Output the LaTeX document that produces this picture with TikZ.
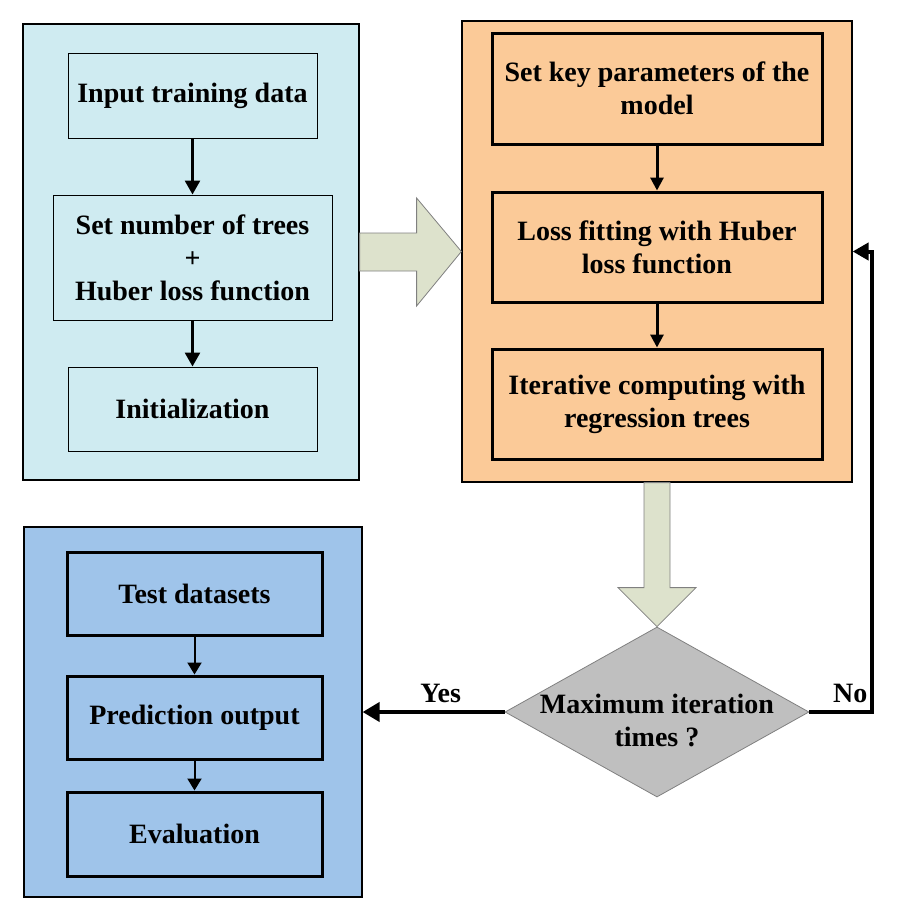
\documentclass[tikz,border=0pt]{standalone}
\usepackage{fontspec}
\setmainfont{Liberation Serif}
\usepackage{tikz}
\usetikzlibrary{positioning, arrows.meta, calc, shapes.geometric}
\definecolor{panelcyan}{RGB}{207, 235, 241}
\definecolor{panelorange}{RGB}{251, 202, 152}
\definecolor{panelblue}{RGB}{159, 196, 234}
\definecolor{arrowfill}{RGB}{221, 226, 204}
\definecolor{decisiongray}{RGB}{191, 191, 191}
\begin{document}
\begin{tikzpicture}[
      x=1pt, y=-1pt,
      font=\fontsize{28}{33}\selectfont\bfseries,
      panel/.style={draw=black, line width=1.2pt},
      thinbox/.style={
        draw=black, line width=1pt, fill=panelcyan,
        minimum width=249pt, minimum height=85pt, align=center
      },
      thickbox/.style={
        draw=black, line width=3pt,
        minimum width=330pt, minimum height=110pt, align=center
      },
      blockarrow/.style={draw=gray, line width=0.8pt, fill=arrowfill}
    ]
      \useasboundingbox (0,0) rectangle (907,922);

      \node[panel, fill=panelcyan, minimum width=336pt, minimum height=456pt] (pA) at (191,252) {};
      \node[panel, fill=panelorange, minimum width=390pt, minimum height=461pt] (pB) at (657,251.5) {};
      \node[panel, fill=panelblue, minimum width=338pt, minimum height=370pt] (pC) at (193,712) {};

      \node[thinbox] (t1) at (192.5,95.5) {Input training data};
      \node[thinbox, minimum width=279pt, minimum height=125pt, below=56pt of t1] (t2) {Set number of trees\\+\\Huber loss function};
      \node[thinbox, minimum height=84pt, below=46pt of t2] (t3) {Initialization};

      \node[thickbox, fill=panelorange, minimum height=111pt] (r1) at (657,88.5) {Set key parameters of the\\model};
      \node[thickbox, fill=panelorange, below=45pt of r1] (r2) {Loss fitting with Huber\\loss function};
      \node[thickbox, fill=panelorange, below=44pt of r2] (r3) {Iterative computing with\\regression trees};

      \node[thickbox, fill=panelblue, minimum width=255pt, minimum height=83pt] (b1) at (194.5,593.5) {Test datasets};
      \node[thickbox, fill=panelblue, minimum width=255pt, minimum height=83pt, below=38pt of b1] (b2) {Prediction output};
      \node[thickbox, fill=panelblue, minimum width=255pt, minimum height=84pt, below=30pt of b2] (b3) {Evaluation};

      \node[diamond, draw=gray, line width=0.8pt, fill=decisiongray, inner sep=0pt,
        minimum width=304pt, minimum height=170pt] (dm) at (657,712) {};
      \node[align=center, yshift=-8pt] (dmtext) at (dm) {Maximum iteration\\times ?};

      \draw[-{Triangle[length=14pt,width=15pt]}, line width=2.7pt] (t1) -- (t2);
      \draw[-{Triangle[length=14pt,width=15pt]}, line width=2.7pt] (t2) -- (t3);
      \draw[-{Triangle[length=13pt,width=13pt]}, line width=3pt] (r1) -- (r2);
      \draw[-{Triangle[length=13pt,width=13pt]}, line width=3pt] (r2) -- (r3);
      \draw[-{Triangle[length=12pt,width=14pt]}, line width=2pt] (b1) -- (b2);
      \draw[-{Triangle[length=12pt,width=14pt]}, line width=2pt] (b2) -- (b3);

      \draw[blockarrow] ($(pA.east)+(0,-19)$) -- ++(57,0) -- ++(0,-35) -- (pB.west)
        -- ($(pA.east)+(57,54)$) -- ++(0,-35) -- ($(pA.east)+(0,19)$) -- cycle;
      \draw[blockarrow] ($(pB.south)+(-13,0)$) -- ++(0,105) -- ++(-26,0) -- (dm.north)
        -- ($(pB.south)+(39,105)$) -- ++(-26,0) -- ($(pB.south)+(13,0)$) -- cycle;

      \draw[-{Triangle[length=17pt,width=19pt]}, line width=4pt] (dm.west) -- node[above=4pt, pos=0.45] (yes) {Yes} (pC.east);
      \draw[-{Triangle[length=16pt,width=17pt]}, line width=4pt] (dm.east) -- node[above=4pt, pos=0.65] (no) {No} ++(63,0) |- (pB.east);
    \end{tikzpicture}
\end{document}
